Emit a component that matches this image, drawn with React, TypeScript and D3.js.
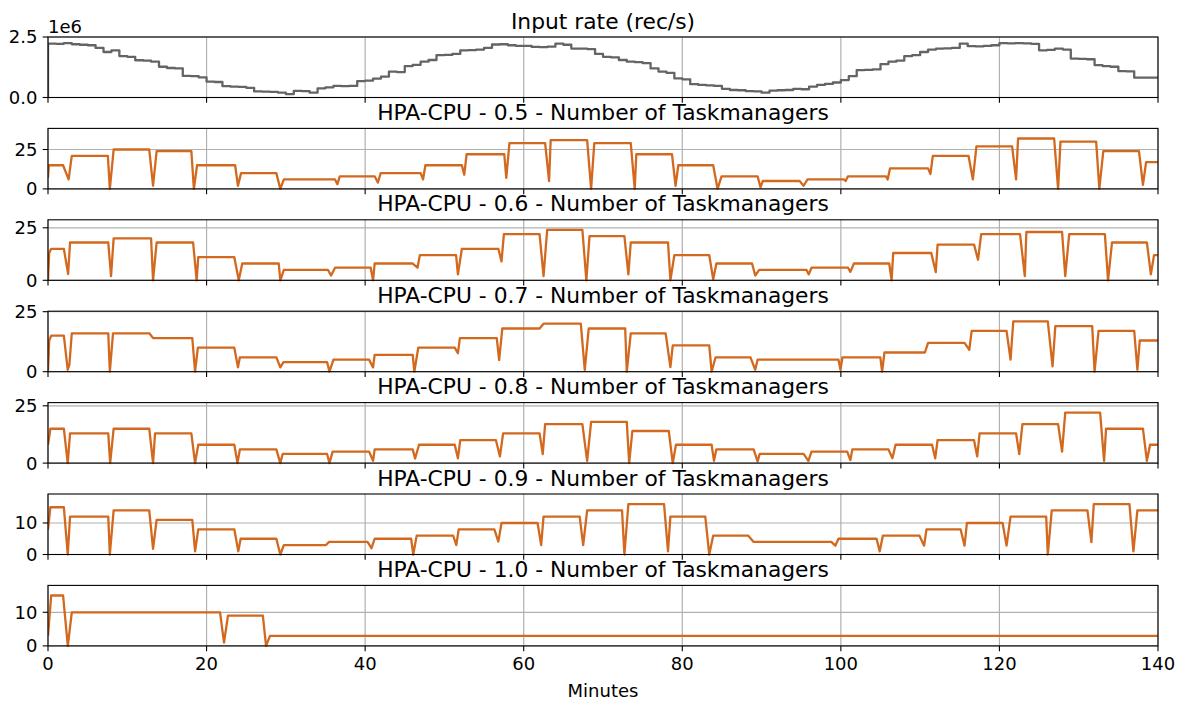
import React from "react";
import * as d3 from "d3";

// input rate, one value per minute (in 1e6 rec/s)
const inputRateMillions = [
  0, 2.23, 2.22, 2.25, 2.2, 2.18, 2.16, 2.05, 1.88, 1.95,
  1.71, 1.68, 1.54, 1.52, 1.48, 1.27, 1.22, 1.2, 0.89, 0.88,
  0.83, 0.66, 0.64, 0.47, 0.45, 0.44, 0.4, 0.25, 0.24, 0.23,
  0.2, 0.14, 0.27, 0.26, 0.2, 0.38, 0.42, 0.48, 0.47, 0.48,
  0.68, 0.7, 0.78, 0.86, 1.07, 1.05, 1.3, 1.35, 1.48, 1.55,
  1.75, 1.76, 1.8, 1.95, 1.96, 1.98, 2.05, 2.19, 2.2, 2.16,
  2.13, 2.13, 2.09, 2.08, 2.1, 2.23, 2.18, 2.02, 2.02, 2.0,
  1.8, 1.68, 1.66, 1.55, 1.48, 1.46, 1.42, 1.2, 1.07, 1.02,
  0.79, 0.75, 0.55, 0.52, 0.5, 0.48, 0.36, 0.31, 0.3, 0.26,
  0.25, 0.2, 0.28, 0.3, 0.31, 0.36, 0.34, 0.45, 0.52, 0.56,
  0.62, 0.72, 0.88, 1.13, 1.14, 1.16, 1.38, 1.48, 1.52, 1.71,
  1.75, 1.88, 1.98, 2.02, 2.03, 2.05, 2.23, 2.12, 2.11, 2.13,
  2.16, 2.25, 2.24, 2.25, 2.24, 2.22, 1.95, 1.97, 2.02, 1.98,
  1.61, 1.6, 1.58, 1.34, 1.3, 1.27, 1.09, 1.08, 0.82, 0.82, 0.82,
];

// taskmanager counts as [minute, count]
const tm05: [number, number][] = [
  [0, 7], [0.1, 15], [1.9, 15], [2.6, 6], [3.0, 21], [7.55, 21], [7.8, 0], [8.28, 25],
  [12.77, 25], [13.25, 2], [13.7, 24], [18.08, 24], [18.4, 0], [18.8, 15], [23.6, 15],
  [23.96, 2], [24.35, 10], [28.8, 10], [29.3, 0], [29.75, 6], [36.2, 6], [36.5, 3],
  [36.8, 8], [41.2, 8], [41.6, 4], [41.96, 10], [47.0, 10], [47.3, 6], [47.6, 15],
  [52.2, 15], [52.5, 9], [52.8, 22], [57.55, 22], [57.8, 7], [58.2, 29], [62.7, 29],
  [63.2, 5], [63.4, 31], [68.0, 31], [68.5, 0], [68.9, 29], [73.5, 29], [74.0, 0],
  [74.2, 22], [78.7, 22], [79.15, 2], [79.5, 15], [83.9, 15], [84.45, 0], [84.95, 8],
  [89.5, 8], [89.86, 1], [90.15, 5], [94.8, 5], [95.3, 2], [95.8, 6], [100.4, 6],
  [100.6, 5], [100.9, 8], [105.7, 8], [105.9, 6], [106.2, 13], [111.0, 13], [111.3, 9.5],
  [111.6, 21], [116.1, 21], [116.65, 6], [117.1, 27], [121.6, 27], [122.1, 6], [122.35, 32],
  [126.9, 32], [127.4, 0], [127.7, 30], [132.2, 30], [132.6, 0], [133.1, 24], [137.6, 24],
  [138.1, 2.5], [138.5, 17], [140, 17],
];

const tm06: [number, number][] = [
  [0, 0], [0.15, 13], [0.4, 15], [2.0, 15], [2.54, 3], [2.78, 18], [7.6, 18], [7.95, 2],
  [8.28, 20], [13.0, 20], [13.25, 0], [13.7, 18], [18.3, 18], [18.75, 0], [18.95, 11],
  [23.5, 11], [24.06, 0], [24.5, 8], [29.1, 8], [29.3, 0], [29.75, 5], [35.3, 5],
  [35.7, 2.3], [36.2, 6], [40.7, 6], [41.0, 0], [41.2, 8], [45.97, 8], [46.6, 6],
  [46.9, 12], [51.47, 12], [51.7, 2.8], [52.2, 15], [56.8, 15], [57.2, 9], [57.5, 22],
  [62.0, 22], [62.5, 2], [62.96, 24], [67.4, 24], [67.9, 0], [68.3, 21], [72.7, 21],
  [73.2, 2.8], [73.5, 18], [78.2, 18], [78.5, 0], [79.0, 12], [83.4, 12], [83.9, 0.5],
  [84.3, 8], [88.8, 8], [89.2, 2.3], [89.7, 5], [95.66, 5], [95.95, 2.8], [96.3, 6],
  [100.9, 6], [101.2, 4], [101.65, 8], [106.1, 8], [106.4, 0], [106.6, 13], [111.4, 13],
  [111.97, 3.9], [112.2, 17], [116.8, 17], [117.3, 9.8], [117.7, 22], [122.6, 22],
  [123.2, 2], [123.4, 23], [127.9, 23], [128.3, 2], [128.8, 22], [133.3, 22], [133.7, 0],
  [134.2, 18], [138.6, 18], [139.1, 2.8], [139.5, 12], [140, 12],
];

const tm07: [number, number][] = [
  [0, 0.5], [0.15, 13], [0.4, 15], [2.0, 15], [2.49, 0.8], [2.7, 3], [3.0, 16], [7.6, 16],
  [7.8, 0], [8.2, 16], [12.77, 16], [13.25, 14], [18.2, 14], [18.55, 0], [18.9, 10],
  [23.5, 10], [23.96, 1.8], [24.2, 6], [28.8, 6], [29.3, 1.8], [29.7, 4], [35.2, 4],
  [35.5, 0], [36.0, 5], [40.5, 5], [41.0, 1.8], [41.2, 7], [46.0, 7], [46.2, 0],
  [46.7, 10], [51.3, 10], [51.7, 7.7], [51.95, 14], [56.6, 14], [56.9, 4.8], [57.3, 18],
  [62.0, 18], [62.5, 20], [67.2, 20], [67.7, 0.8], [68.2, 18], [72.8, 18], [73.0, 0],
  [73.5, 16], [77.9, 16], [78.5, 1.9], [78.8, 11], [83.4, 11], [83.7, 0], [84.2, 6],
  [88.6, 6], [89.2, 0.8], [89.5, 5], [99.7, 5], [99.95, 0.8], [100.2, 6], [104.98, 6],
  [105.2, 0], [105.5, 8], [110.6, 8], [111.0, 12], [115.6, 12], [116.2, 9.1], [116.5, 17],
  [120.9, 17], [121.4, 5], [121.75, 21], [126.1, 21], [126.7, 2.2], [127.05, 19],
  [131.7, 19], [132.0, 0], [132.5, 17], [137.0, 17], [137.4, 0.8], [137.7, 13], [140, 13],
];

const tm08: [number, number][] = [
  [0, 8], [0.3, 15], [2.0, 15], [2.49, 0], [2.78, 13], [7.6, 13], [7.84, 0], [8.28, 15],
  [12.77, 15], [13.25, 0], [13.5, 13], [18.08, 13], [18.55, 0], [18.95, 8], [23.5, 8],
  [23.9, 0], [24.2, 6], [28.8, 6], [29.3, 0], [29.6, 4], [35.2, 4], [35.5, 0], [35.9, 5],
  [40.5, 5], [41.0, 1], [41.2, 6], [46.0, 6], [46.3, 2], [46.8, 8], [51.3, 8], [51.7, 2.1],
  [52.0, 10], [56.5, 10], [57.0, 2.9], [57.4, 13], [62.0, 13], [62.4, 3.9], [62.7, 17],
  [67.4, 17], [68.0, 1], [68.5, 18], [73.0, 18], [73.3, 0], [73.7, 14], [78.3, 14],
  [78.8, 0], [79.2, 8], [83.7, 8], [84.0, 1], [84.3, 6], [89.0, 6], [89.5, 0.7],
  [89.76, 4], [95.3, 4], [95.9, 1], [96.3, 5], [100.8, 5], [101.2, 1.3], [101.45, 6],
  [106.0, 6], [106.5, 2.1], [106.9, 8], [111.5, 8], [111.9, 2.1], [112.2, 10], [116.8, 10],
  [117.2, 2.9], [117.5, 13], [122.1, 13], [122.5, 3.9], [122.9, 17], [127.4, 17],
  [127.9, 5], [128.3, 22], [132.7, 22], [133.2, 1], [133.45, 15], [138.1, 15], [138.6, 1],
  [139.0, 8], [140, 8],
];

const tm09: [number, number][] = [
  [0, 7.9], [0.3, 15], [2.0, 15], [2.49, 0], [2.78, 12], [7.6, 12], [7.8, 0], [8.28, 14],
  [12.77, 14], [13.25, 1.8], [13.7, 11], [18.2, 11], [18.55, 1], [18.95, 8], [23.5, 8],
  [24.0, 1], [24.3, 5], [28.8, 5], [29.3, 0], [29.75, 3], [35.06, 3], [35.45, 4], [40.3, 4],
  [40.8, 2], [41.2, 5], [45.8, 5], [46.07, 0], [46.5, 6], [51.1, 6], [51.5, 3], [51.8, 8],
  [56.3, 8], [56.8, 4.1], [57.2, 10], [61.75, 10], [62.2, 3], [62.5, 12], [67.06, 12],
  [67.5, 3], [68.0, 14], [72.4, 14], [72.7, 0], [73.2, 16], [77.7, 16], [78.2, 1],
  [78.5, 12], [82.9, 12], [83.4, 0], [83.9, 6], [88.3, 6], [89.0, 4], [98.8, 4],
  [99.3, 2.8], [99.7, 5], [104.5, 5], [104.9, 1], [105.3, 6], [109.9, 6], [110.5, 2.8],
  [110.8, 8], [115.1, 8], [115.6, 2.8], [115.9, 10], [120.4, 10], [120.9, 2.8], [121.4, 12],
  [125.9, 12], [126.1, 0], [126.6, 14], [131.1, 14], [131.6, 3.9], [131.9, 16], [136.4, 16],
  [136.9, 1], [137.4, 14], [140, 14],
];

const tm10: [number, number][] = [
  [0, 3], [0.4, 15], [1.9, 15], [2.5, 0], [3.0, 10], [21.7, 10], [22.2, 1], [22.7, 9],
  [27.1, 9], [27.5, 0], [28.0, 3], [140, 3],
];

const xTicks = [0, 20, 40, 60, 80, 100, 120, 140];

const panels = [
  { title: "HPA-CPU - 0.5 - Number of Taskmanagers", data: tm05, yTicks: [0, 25] },
  { title: "HPA-CPU - 0.6 - Number of Taskmanagers", data: tm06, yTicks: [0, 25] },
  { title: "HPA-CPU - 0.7 - Number of Taskmanagers", data: tm07, yTicks: [0, 25] },
  { title: "HPA-CPU - 0.8 - Number of Taskmanagers", data: tm08, yTicks: [0, 25] },
  { title: "HPA-CPU - 0.9 - Number of Taskmanagers", data: tm09, yTicks: [0, 10] },
  { title: "HPA-CPU - 1.0 - Number of Taskmanagers", data: tm10, yTicks: [0, 10] },
];

const W = 1182;
const H = 704;
const left = 48;
const right = 1158;
const firstTop = 37;
const pitch = 91.4;
const panelH = 60.5;
const font = "DejaVu Sans, sans-serif";
const tickSize = 18;
const titleSize = 21.8;
const tickLen = 5.3;
const gridColor = "#b0b0b0";
const orange = "#d2691e";
const gray = "#646464";

const x = d3.scaleLinear().domain([0, 140]).range([left, right]);

function Panel({ top, y, yTicks, fmt, path, color, title, showX, offset }: any) {
  const bottom = top + panelH;
  const clipId = `clip-${Math.round(top)}`;
  return (
    <g>
      <defs>
        <clipPath id={clipId}>
          <rect x={left} y={top - 2} width={right - left} height={panelH + 4} />
        </clipPath>
      </defs>
      {xTicks.map((t) => (
        <line key={"gx" + t} x1={x(t)} x2={x(t)} y1={top} y2={bottom} stroke={gridColor} strokeWidth={1.2} />
      ))}
      {yTicks.map((t: number) => (
        <line key={"gy" + t} x1={left} x2={right} y1={y(t)} y2={y(t)} stroke={gridColor} strokeWidth={1.2} />
      ))}
      <path d={path} fill="none" stroke={color} strokeWidth={2.3} strokeLinejoin="round" clipPath={`url(#${clipId})`} />
      <rect x={left} y={top} width={right - left} height={panelH} fill="none" stroke="#000" strokeWidth={1.1} />
      {xTicks.map((t) => (
        <line key={"tx" + t} x1={x(t)} x2={x(t)} y1={bottom} y2={bottom + tickLen} stroke="#000" strokeWidth={1.1} />
      ))}
      {yTicks.map((t: number) => (
        <g key={"ty" + t}>
          <line x1={left - tickLen} x2={left} y1={y(t)} y2={y(t)} stroke="#000" strokeWidth={1.1} />
          <text x={left - 2 * tickLen} y={y(t)} dy="0.36em" textAnchor="end" fontSize={tickSize} fontFamily={font}>
            {fmt(t)}
          </text>
        </g>
      ))}
      {showX &&
        xTicks.map((t) => (
          <text key={"lx" + t} x={x(t)} y={bottom + 2 * tickLen + 13.5} textAnchor="middle" fontSize={tickSize} fontFamily={font}>
            {t}
          </text>
        ))}
      <text x={(left + right) / 2} y={top - 8.5} textAnchor="middle" fontSize={titleSize} fontFamily={font}>
        {title}
      </text>
      {offset && (
        <text x={left} y={top - 4} fontSize={tickSize} fontFamily={font}>
          {offset}
        </text>
      )}
    </g>
  );
}

export default function App() {
  const yIn = d3.scaleLinear().domain([0, 2.5e6]).range([firstTop + panelH, firstTop]);
  const inputLine = d3
    .line<number>()
    .x((_, i) => x(i))
    .y((v) => yIn(v * 1e6))
    .curve(d3.curveStepBefore);

  return (
    <svg width={W} height={H} style={{ position: "absolute", left: 0, top: 0, background: "#fff" }}>
      <rect width={W} height={H} fill="#fff" />
      <Panel
        top={firstTop}
        y={yIn}
        yTicks={[0, 2.5e6]}
        fmt={(t: number) => (t / 1e6).toFixed(1)}
        path={inputLine(inputRateMillions) || ""}
        color={gray}
        title="Input rate (rec/s)"
        showX={false}
        offset="1e6"
      />
      {panels.map((p, i) => {
        const top = firstTop + pitch * (i + 1);
        const yMax = (d3.max(p.data, (d) => d[1]) || 1) * 1.2;
        const y = d3.scaleLinear().domain([0, yMax]).range([top + panelH, top]);
        const line = d3
          .line<[number, number]>()
          .x((d) => x(d[0]))
          .y((d) => y(d[1]));
        return (
          <Panel
            key={p.title}
            top={top}
            y={y}
            yTicks={p.yTicks}
            fmt={(t: number) => String(t)}
            path={line(p.data) || ""}
            color={orange}
            title={p.title}
            showX={i === panels.length - 1}
          />
        );
      })}
      <text x={(left + right) / 2} y={697} textAnchor="middle" fontSize={tickSize} fontFamily={font}>
        Minutes
      </text>
    </svg>
  );
}
